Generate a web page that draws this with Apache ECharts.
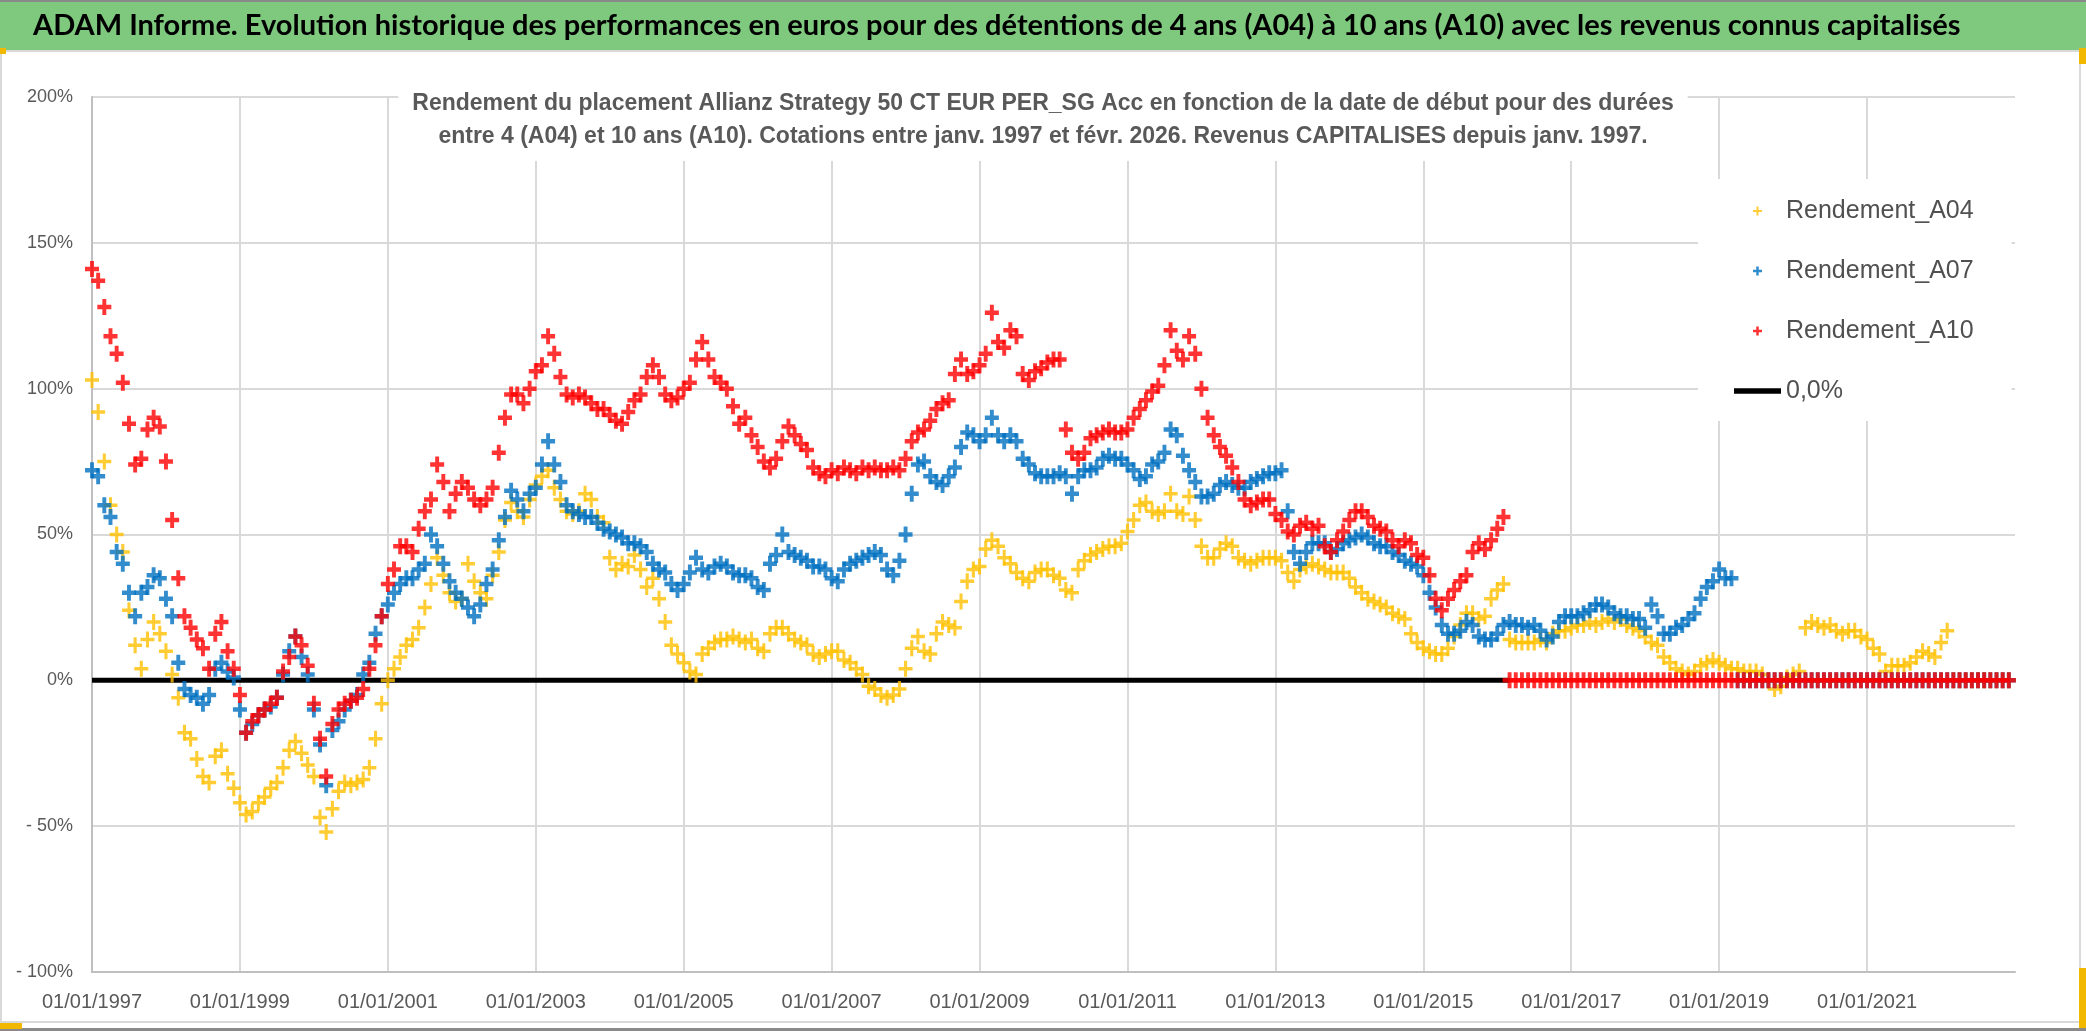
<!DOCTYPE html>
<html><head><meta charset="utf-8">
<script src="https://cdn.jsdelivr.net/npm/echarts@6/dist/echarts.min.js"></script>
<style>html,body{margin:0;padding:0;background:#fff}#c{width:2086px;height:1031px}</style>
</head><body><div id="c"></div>
<script>
// Monthly samples, one value per month starting janv. 1997 (start date of the holding period).
const START_YEAR = 1997;
const X_TICKS = [1997, 1999, 2001, 2003, 2005, 2007, 2009, 2011, 2013, 2015, 2017, 2019, 2021];

const A04 = [
  103, 92, 75, 60, 50, 44, 24, 12, 4, 14, 20, 16,          // 1997
  10, 2, -6, -18, -20, -27, -33, -35, -26, -24, -32, -37,  // 1998
  -42, -46, -45, -42, -40, -37, -35, -30, -24, -21, -25, -29, // 1999
  -33, -47, -52, -44, -38, -35, -36, -35, -34, -30, -20, -8,  // 2000
  0, 4, 8, 12, 14, 18, 25, 33, 42, 36, 30, 27,             // 2001
  28, 40, 34, 30, 28, 36, 44, 55, 61, 58, 56, 62,          // 2002
  67, 70, 72, 66, 62, 58, 57, 58, 64, 62, 56, 54,          // 2003
  42, 38, 40, 39, 43, 38, 32, 35, 28, 20, 12, 9,           // 2004
  6, 3, 2, 9, 11, 13, 14, 14, 15, 14, 13, 14,              // 2005
  11, 10, 16, 18, 18, 16, 14, 13, 12, 9, 8, 9,             // 2006
  10, 10, 7, 6, 4, 2, -2, -3, -5, -6, -5, -3,              // 2007
  4, 11, 15, 10, 9, 16, 20, 19, 18, 27, 34, 38,            // 2008
  39, 45, 48, 46, 42, 40, 37, 35, 34, 37, 38, 38,          // 2009
  36, 35, 31, 30, 38, 41, 43, 44, 45, 46, 46, 47,          // 2010
  51, 55, 60, 61, 58, 57, 58, 64, 58, 57, 63, 55,          // 2011
  46, 42, 42, 45, 47, 46, 42, 41, 40, 41, 42, 42,          // 2012
  42, 41, 37, 34, 38, 39, 40, 39, 38, 37, 37, 37,          // 2013
  35, 32, 30, 28, 27, 26, 25, 23, 22, 21, 16, 13,          // 2014
  11, 10, 9, 9, 11, 15, 19, 23, 23, 21, 22, 28,            // 2015
  31, 33, 14, 13, 13, 13, 13, 14, 13, 16, 17, 17,          // 2016
  18, 19, 19, 20, 19, 20, 21, 20, 21, 19, 18, 17,          // 2017
  15, 13, 12, 8, 6, 4, 3, 2, 3, 5, 6, 7,                   // 2018
  6, 5, 4, 4, 3, 3, 3, 2, 0, -3, -2, 1,                    // 2019
  2, 3, 18, 20, 19, 18, 19, 17, 16, 17, 17, 15,            // 2020
  14, 11, 9, 3, 5, 5, 5, 6, 8, 10, 9, 8,                   // 2021
  13, 17, 0, 0, 0, 0, 0, 0, 0, 0, 0, 0                     // 2022
];

const A07 = [
  72, 70, 60, 56, 44, 40, 30, 22, 30, 32, 36, 35,          // 1997
  28, 22, 6, -3, -5, -6, -8, -5, 4, 6, 3, 1,               // 1998
  -10, -18, -15, -12, -10, -9, -6, 2, 10, 15, 8, 2,        // 1999
  -10, -22, -36, -17, -14, -10, -7, -5, 2, 6, 16, 22,      // 2000
  26, 30, 33, 35, 35, 38, 40, 50, 46, 40, 34, 30,          // 2001
  28, 25, 22, 26, 33, 38, 48, 56, 65, 62, 58, 64,          // 2002
  66, 74, 82, 74, 68, 60, 58, 57, 56, 56, 54, 52,          // 2003
  51, 50, 49, 47, 47, 46, 44, 40, 38, 37, 33, 31,          // 2004
  33, 37, 42, 38, 37, 39, 40, 39, 37, 36, 36, 35,          // 2005
  32, 31, 40, 43, 50, 44, 43, 42, 41, 39, 39, 38,          // 2006
  35, 34, 38, 40, 41, 42, 43, 44, 43, 38, 36, 41,          // 2007
  50, 64, 74, 75, 70, 68, 67, 70, 73, 80, 85, 84,          // 2008
  82, 84, 90, 84, 82, 84, 82, 76, 74, 71, 70, 70,          // 2009
  70, 71, 70, 64, 70, 72, 72, 73, 76, 77, 76, 76,          // 2010
  74, 72, 69, 70, 74, 75, 78, 86, 84, 77, 72, 68,          // 2011
  63, 63, 64, 67, 68, 67, 66, 66, 68, 69, 70, 71,          // 2012
  71, 72, 58, 44, 40, 44, 47, 47, 47, 44, 45, 47,          // 2013
  48, 49, 50, 49, 47, 46, 46, 44, 43, 41, 40, 39,          // 2014
  36, 30, 25, 19, 16, 16, 17, 20, 19, 15, 14, 14,          // 2015
  16, 19, 20, 19, 19, 18, 19, 17, 14, 15, 20, 22,          // 2016
  22, 22, 23, 24, 26, 26, 25, 23, 22, 22, 21, 21,          // 2017
  18, 26, 22, 16, 16, 18, 19, 21, 23, 28, 32, 34,          // 2018
  38, 35, 35, 0, 0, 0, 0, 0, 0, 0, 0, 0,                   // 2019
  0, 0, 0, 0, 0, 0, 0, 0, 0, 0, 0, 0,                      // 2020
  0, 0, 0, 0, 0, 0, 0, 0, 0, 0, 0, 0,                      // 2021
  0, 0, 0, 0, 0, 0, 0, 0, 0, 0, 0, 0                       // 2022
];

const A10 = [
  141, 137, 128, 118, 112, 102, 88, 74, 76, 86, 90, 87,    // 1997
  75, 55, 35, 22, 18, 14, 11, 4, 16, 20, 10, 4,            // 1998
  -5, -18, -14, -12, -10, -8, -6, 3, 8, 15, 12, 5,         // 1999
  -8, -20, -33, -15, -10, -8, -7, -6, -3, 4, 12, 22,       // 2000
  33, 38, 46, 46, 44, 52, 58, 62, 74, 68, 58, 64,          // 2001
  68, 66, 62, 60, 62, 66, 78, 90, 98, 98, 95, 100,         // 2002
  106, 108, 118, 112, 104, 98, 97, 98, 97, 95, 93, 93,     // 2003
  91, 89, 88, 92, 96, 98, 104, 108, 104, 98, 96, 97,       // 2004
  100, 102, 110, 116, 110, 104, 102, 100, 94, 88, 90, 84,  // 2005
  80, 75, 73, 76, 82, 87, 84, 81, 79, 73, 71, 70,          // 2006
  72, 71, 73, 72, 71, 73, 72, 73, 72, 72, 73, 72,          // 2007
  76, 82, 85, 86, 89, 93, 95, 96, 105, 110, 105, 106,      // 2008
  108, 112, 126, 116, 114, 120, 118, 105, 103, 106, 107, 109, // 2009
  110, 110, 86, 78, 76, 78, 83, 84, 85, 86, 85, 85,        // 2010
  86, 90, 93, 96, 99, 101, 108, 120, 113, 110, 118, 112,   // 2011
  100, 90, 84, 80, 77, 73, 68, 62, 60, 61, 62, 62,         // 2012
  57, 55, 51, 50, 53, 54, 52, 53, 46, 44, 48, 51,          // 2013
  55, 58, 58, 56, 53, 52, 51, 48, 46, 48, 47, 43,          // 2014
  42, 36, 28, 24, 28, 31, 34, 36, 44, 47, 45, 48,          // 2015
  52, 56, 0, 0, 0, 0, 0, 0, 0, 0, 0, 0,                    // 2016
  0, 0, 0, 0, 0, 0, 0, 0, 0, 0, 0, 0,                      // 2017
  0, 0, 0, 0, 0, 0, 0, 0, 0, 0, 0, 0,                      // 2018
  0, 0, 0, 0, 0, 0, 0, 0, 0, 0, 0, 0,                      // 2019
  0, 0, 0, 0, 0, 0, 0, 0, 0, 0, 0, 0,                      // 2020
  0, 0, 0, 0, 0, 0, 0, 0, 0, 0, 0, 0,                      // 2021
  0, 0, 0, 0, 0, 0, 0, 0, 0, 0, 0, 0                       // 2022
];

// Reference line "0,0%": from janv. 1997 to mars 2016, value 0
const ZERO_LINE_X = [1997, 2016.17];
const ZERO_LINE_Y = [0, 0];

const SERIES_NAMES = ['Rendement_A04', 'Rendement_A07', 'Rendement_A10', '0,0%'];
const TITLE = 'ADAM Informe. Evolution historique des performances en euros pour des détentions de 4 ans (A04) à 10 ans (A10) avec les revenus connus capitalisés';
const SUBTITLE = 'Rendement du placement Allianz Strategy 50 CT EUR PER_SG Acc en fonction de la date de début pour des durées\nentre 4 (A04) et 10 ans (A10). Cotations entre janv. 1997 et févr. 2026. Revenus CAPITALISES depuis janv. 1997.';

function toPoints(arr) { return arr.map((v, i) => [START_YEAR + i / 12, v]); }

const crossThin = 'path://M3.9,0H6.1V3.9H10V6.1H6.1V10H3.9V6.1H0V3.9H3.9Z';
const crossBold = 'path://M3.6,0H6.4V3.6H10V6.4H6.4V10H3.6V6.4H0V3.6H3.6Z';
const lineIcon = 'path://M0,0H47V5.5H0Z';

const chart = echarts.init(document.getElementById('c'), null, { renderer: 'canvas' });
const GRAY = '#595959';
chart.setOption({
  animation: false,
  backgroundColor: '#fff',
  graphic: [
    { type: 'rect', shape: { x: 0, y: 0, width: 2086, height: 50 }, style: { fill: '#7FC97F' }, z: -10 },
    { type: 'rect', shape: { x: 0, y: 0, width: 2086, height: 2 }, style: { fill: '#8a8a8a' }, z: -9 },
    { type: 'rect', shape: { x: 1, y: 51, width: 2079, height: 971 }, style: { fill: 'none', stroke: '#D9D9D9', lineWidth: 2 }, z: -9 },
    { type: 'rect', shape: { x: 0, y: 1028, width: 2086, height: 3 }, style: { fill: '#8a8a8a' }, z: -9 },
    { type: 'rect', shape: { x: 0, y: 48, width: 6, height: 6 }, style: { fill: '#F2B800' }, z: -8 },
    { type: 'rect', shape: { x: 2079, y: 48, width: 7, height: 16 }, style: { fill: '#F2B800' }, z: -8 },
    { type: 'rect', shape: { x: 0, y: 1023, width: 22, height: 6 }, style: { fill: '#F2B800' }, z: -8 },
    { type: 'rect', shape: { x: 2079, y: 968, width: 7, height: 60 }, style: { fill: '#F2B800' }, z: -8 }
  ],
  title: [
    { text: TITLE, left: 33, top: 11, padding: 0,
      textStyle: { fontFamily: 'Lato', fontWeight: 'bold', fontSize: 29, color: '#000' } },
    { text: SUBTITLE, left: 'center', top: 75, padding: [12, 14, 8, 14], backgroundColor: '#fff',
      textStyle: { fontFamily: 'Liberation Sans', fontWeight: 'bold', fontSize: 23, color: GRAY, lineHeight: 33 } }
  ],
  legend: {
    data: [
      { name: 'Rendement_A04' }, { name: 'Rendement_A07' }, { name: 'Rendement_A10' },
      { name: '0,0%', icon: lineIcon }
    ],
    orient: 'vertical', left: 1698, top: 179, padding: [17, 38, 15, 36],
    itemWidth: 47, itemHeight: 9, itemGap: 30, backgroundColor: '#fff', selectedMode: false,
    textStyle: { fontFamily: 'Liberation Sans', fontSize: 25, color: '#505050', lineHeight: 30 }
  },
  grid: { left: 92, right: 71, top: 97, bottom: 59, containLabel: false },
  xAxis: {
    type: 'value', min: 1997, max: 2023, interval: 2,
    axisLine: { show: true, onZero: false, lineStyle: { color: '#BFBFBF', width: 2 } },
    axisTick: { show: false },
    splitLine: { show: true, showMaxLine: false, lineStyle: { color: '#D9D9D9', width: 2 } },
    axisLabel: { formatter: v => X_TICKS.includes(v) ? '01/01/' + v : '', showMaxLabel: false, margin: 20,
      fontFamily: 'Liberation Sans', fontSize: 20, color: GRAY }
  },
  yAxis: {
    type: 'value', min: -100, max: 200, interval: 50,
    axisLine: { show: true, lineStyle: { color: '#BFBFBF', width: 2 } },
    axisTick: { show: false },
    splitLine: { show: true, lineStyle: { color: '#D9D9D9', width: 2 } },
    axisLabel: { formatter: v => v < 0 ? '- ' + (-v) + '%' : v + '%', margin: 19,
      fontFamily: 'Liberation Sans', fontSize: 18, color: GRAY }
  },
  series: [
    { name: '0,0%', type: 'line', symbol: 'none', data: ZERO_LINE_X.map((x, i) => [x, ZERO_LINE_Y[i]]),
      lineStyle: { color: '#000', width: 5 }, itemStyle: { color: '#000' }, z: 2 },
    { name: 'Rendement_A04', type: 'scatter', symbol: crossThin, symbolSize: [14, 16], symbolKeepAspect: false,
      itemStyle: { color: '#FFC000' }, data: toPoints(A04), z: 3 },
    { name: 'Rendement_A07', type: 'scatter', symbol: crossBold, symbolSize: [14, 16], symbolKeepAspect: false,
      itemStyle: { color: '#0070C0' }, data: toPoints(A07), z: 4 },
    { name: 'Rendement_A10', type: 'scatter', symbol: crossBold, symbolSize: [14, 16], symbolKeepAspect: false,
      itemStyle: { color: '#FF0000' }, data: toPoints(A10), z: 5 }
  ]
});
</script></body></html>
